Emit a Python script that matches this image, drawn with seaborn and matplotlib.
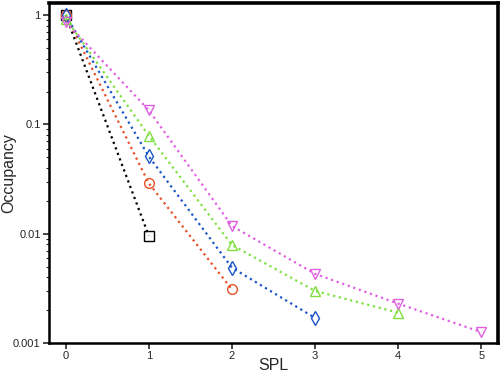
import numpy as np
import pandas as pd
import matplotlib
matplotlib.use("Agg")
import matplotlib.pyplot as plt
import seaborn as sns
from matplotlib.ticker import LogLocator

sns.set_style("ticks")
plt.rcParams['font.family'] = ['Liberation Sans', 'DejaVu Sans']

spl = [0, 1, 2, 3, 4, 5]
occ_black = [1.0, 0.0096]
occ_red = [1.0, 0.029, 0.0031]
occ_blue = [1.0, 0.051, 0.0049, 0.0017]
occ_green = [0.93, 0.079, 0.0079, 0.0030, 0.0019]
occ_magenta = [0.87, 0.135, 0.0118, 0.0043, 0.0023, 0.00126]

series = [
    (occ_black, "black", "s"),
    (occ_red, "#e8502a", "o"),
    (occ_blue, "#1a55c8", "d"),
    (occ_green, "#80e040", "^"),
    (occ_magenta, "#e060e0", "v"),
]

fig = plt.figure(figsize=(5, 3.73), dpi=100)
ax = fig.add_axes([0.098, 0.080, 0.898, 0.912])

for vals, col, mk in series:
    df = pd.DataFrame({"SPL": spl[:len(vals)], "Occupancy": vals})
    sns.lineplot(data=df, x="SPL", y="Occupancy", ax=ax, color=col,
                 linestyle=":", linewidth=1.6, marker=mk, markersize=7,
                 markerfacecolor="none", markeredgecolor=col,
                 markeredgewidth=1.0)

ax.set_yscale("log")
ax.set_ylim(0.001, 1.29)
ax.set_xlim(-0.2, 5.2)
ax.set_yticks([0.001, 0.01, 0.1, 1])
ax.set_yticklabels(["0.001", "0.01", "0.1", "1"])
ax.yaxis.set_minor_locator(LogLocator(base=10, subs=np.arange(2, 10)))
ax.yaxis.set_minor_formatter(plt.NullFormatter())
ax.set_xticks(spl)
ax.tick_params(axis="both", labelsize=8, width=1.2, length=4, direction="out", pad=2)
ax.tick_params(axis="y", which="minor", length=2.5, width=0.8)
ax.set_xlabel("SPL", fontsize=11.5)
ax.set_ylabel("Occupancy", fontsize=11.5)
ax.xaxis.set_label_coords(0.5, -0.044)
ax.yaxis.set_label_coords(-0.072, 0.5)
for s in ax.spines.values():
    s.set_linewidth(1.8)
    s.set_color("black")
ax.spines["top"].set_linewidth(2.6)
ax.spines["right"].set_linewidth(2.6)

fig.savefig("out.png", dpi=100)
